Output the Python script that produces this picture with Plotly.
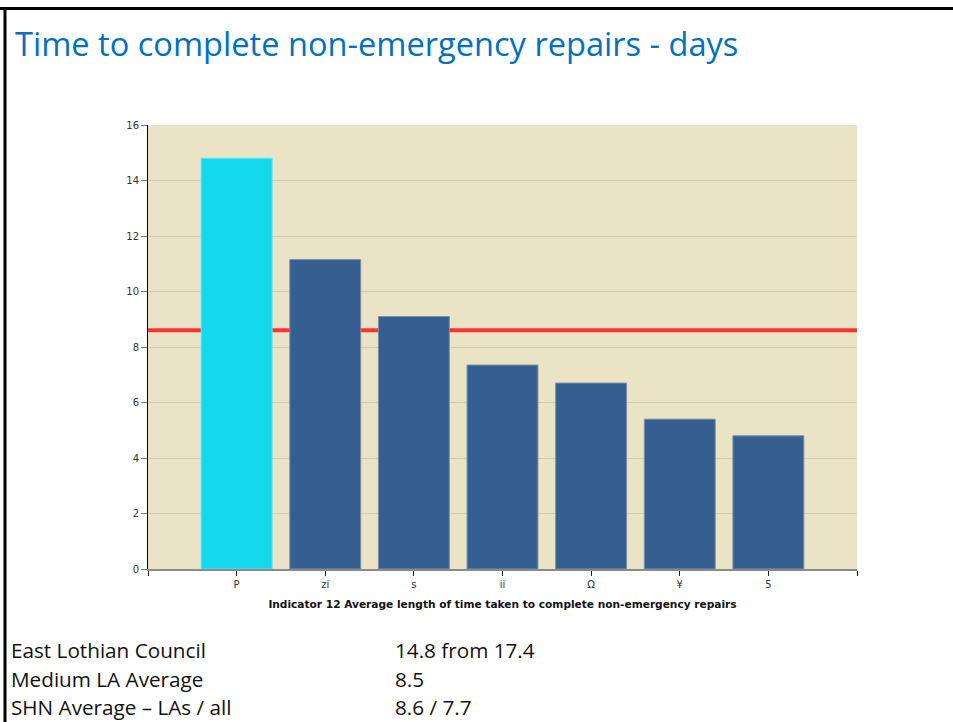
import plotly.graph_objects as go

# Chart data
categories = ["P", "zi", "s", "ii", "Ω", "¥", "5"]
values = [14.8, 11.15, 9.1, 7.35, 6.7, 5.4, 4.8]
highlight = "P"          # East Lothian Council
shn_la_average = 8.6     # SHN average (LAs)

info_labels = ["East Lothian Council", "Medium LA Average", "SHN Average \u2013 LAs / all"]
info_values = ["14.8 from 17.4", "8.5", "8.6 / 7.7"]

W, H = 953, 722
L, R, T, B = 148, 96, 125, 153
pw, ph = W - L - R, H - T - B


def px(x):
    return (x - L) / pw


def py(y):
    return (H - B - y) / ph


CYAN = "#14d9ec"
NAVY = "#365f91"
bar_colors = [CYAN if c == highlight else NAVY for c in categories]
edge_colors = ["#5fe3ef" if c == highlight else "#7d8ea6" for c in categories]

xpos = list(range(len(categories)))

fig = go.Figure()
fig.add_trace(go.Bar(
    x=xpos, y=values, width=0.8,
    marker=dict(color=bar_colors, line=dict(color=edge_colors, width=1)),
    hoverinfo="skip",
))

# Average reference line behind the bars
fig.add_shape(type="line", xref="paper", yref="y", x0=0, x1=1,
              y0=shn_la_average, y1=shn_la_average,
              line=dict(color="#ff3333", width=4), layer="below")

tick_font = dict(family="DejaVu Sans", size=10, color="#333333")

fig.update_xaxes(
    range=[-1, len(categories)],
    tickvals=[-1] + xpos + [len(categories)],
    ticktext=[""] + categories + [""],
    ticks="outside", ticklen=5, tickcolor="#222222",
    showline=True, linecolor="#8a8a8a", linewidth=1.5,
    showgrid=False, zeroline=False,
    tickfont=tick_font,
    title=dict(text="<b>Indicator 12 Average length of time taken to complete non-emergency repairs</b>",
               font=dict(family="DejaVu Sans", size=10.6, color="#111111"), standoff=12),
)
fig.update_yaxes(
    range=[0, 16], dtick=2,
    ticks="outside", ticklen=6, tickcolor="#777777",
    showline=True, linecolor="#000000", linewidth=1,
    showgrid=True, gridcolor="#d6cdb1", gridwidth=1,
    zeroline=False, tickfont=tick_font,
)

# Slide frame
fig.add_shape(type="line", xref="paper", yref="paper",
              x0=px(0), x1=px(W), y0=py(8.5), y1=py(8.5),
              line=dict(color="#000000", width=3))
fig.add_shape(type="line", xref="paper", yref="paper",
              x0=px(5), x1=px(5), y0=py(8.5), y1=py(H + 2),
              line=dict(color="#000000", width=3))

# Summary table below the chart
annotations = []
for i, (lab, val) in enumerate(zip(info_labels, info_values)):
    yy = 650 + i * 28.5
    annotations.append(dict(text=lab, x=px(9), y=py(yy), xref="paper", yref="paper",
                            xanchor="left", yanchor="middle", showarrow=False,
                            font=dict(family="Open Sans", size=20.7, color="#111111")))
    annotations.append(dict(text=val, x=px(393), y=py(yy), xref="paper", yref="paper",
                            xanchor="left", yanchor="middle", showarrow=False,
                            font=dict(family="Open Sans", size=20.7, color="#111111")))

fig.update_layout(
    width=W, height=H,
    margin=dict(l=L, r=R, t=T, b=B),
    paper_bgcolor="#ffffff",
    plot_bgcolor="#ebe3c6",
    showlegend=False,
    bargap=0.2,
    title=dict(text="Time to complete non-emergency repairs - days",
               x=15 / W, xref="container", xanchor="left",
               y=1 - 45 / H, yref="container", yanchor="middle",
               font=dict(family="Open Sans", size=32.6, color="#0070c0")),
    annotations=annotations,
)

fig.write_html("out.html")
